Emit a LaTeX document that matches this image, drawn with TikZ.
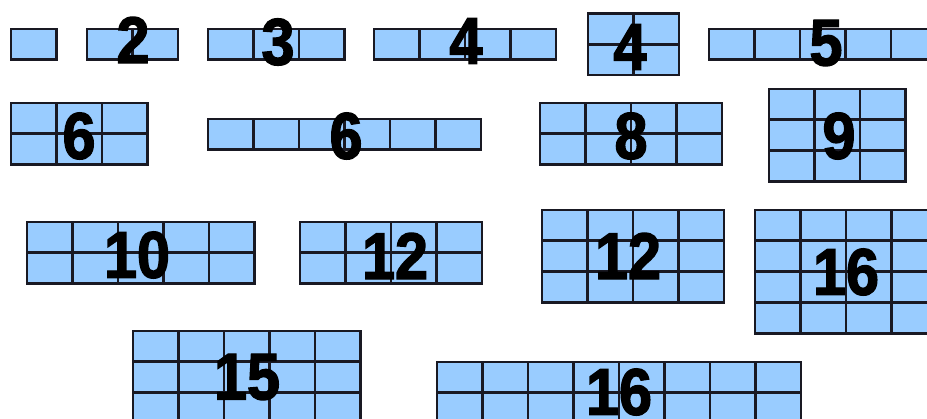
\documentclass[tikz,border=0pt]{standalone}
\usepackage{fontspec}
\setmainfont{Liberation Sans}
\newfontfamily\digitfont{Liberation Sans}[FakeStretch=0.9, FakeBold=2]
\usetikzlibrary{positioning}
\definecolor{cellblue}{RGB}{153,204,255}
\definecolor{cellline}{RGB}{25,25,35}
\tikzset{
    gridcell/.style={
        fill=cellblue, draw=cellline, line width=1.35pt
    },
    countlabel/.style={
        inner sep=0pt, text=black, font=\digitfont\bfseries\fontsize{33}{33}\selectfont
    }
}
% grid of cells: left, top, columns, rows (pixel units)
\newcommand{\drawcells}[4]{%
    \foreach \i in {1,...,#3}
        \foreach \j in {1,...,#4}
            \draw[gridcell] ({#1+(\i-1)*45.5},{#2+(\j-1)*30.8}) rectangle ++(45.5,30.8);
}

\begin{document}
\begin{tikzpicture}[x=0.5pt, y=-0.5pt]
    \useasboundingbox (0,0) rectangle (927,418);
    \clip (0,0) rectangle (927,418);

    % first row
    \drawcells{11}{29}{1}{1}
    \drawcells{87}{29}{2}{1}
    \drawcells{208}{29}{3}{1}
    \drawcells{374}{29}{4}{1}
    \drawcells{588}{13.5}{2}{2}
    \drawcells{709}{29}{5}{1}
    \node[countlabel] (cnt2) at (133, 40) {2};
    \node[countlabel] (cnt3) at (278, 42) {3};
    \node[countlabel] (cnt4a) at (466, 41) {4};
    \node[countlabel] (cnt4b) at (630, 47) {4};
    \node[countlabel] (cnt5) at (826, 43) {5};

    % second row
    \drawcells{11}{103}{3}{2}
    \drawcells{208}{119}{6}{1}
    \drawcells{540}{103}{4}{2}
    \drawcells{769}{89}{3}{3}
    \node[countlabel] (cnt6a) at (79, 136) {6};
    \node[countlabel] (cnt6b) at (346, 136) {6};
    \node[countlabel] (cnt8) at (631, 136) {8};
    \node[countlabel] (cnt9) at (839, 136) {9};

    % third row
    \drawcells{27}{222}{5}{2}
    \drawcells{300}{222}{4}{2}
    \drawcells{542}{210}{4}{3}
    \drawcells{755}{210}{4}{4}
    \node[countlabel] (cnt10) at (137, 255) {10};
    \node[countlabel] (cnt12a) at (395, 256) {12};
    \node[countlabel] (cnt12b) at (628, 256) {12};
    \node[countlabel] (cnt16a) at (846, 272) {16};

    % fourth row
    \drawcells{133}{331}{5}{3}
    \drawcells{437}{362}{8}{2}
    \node[countlabel] (cnt15) at (247, 377) {15};
    \node[countlabel] (cnt16b) at (619, 392) {16};
\end{tikzpicture}
\end{document}
